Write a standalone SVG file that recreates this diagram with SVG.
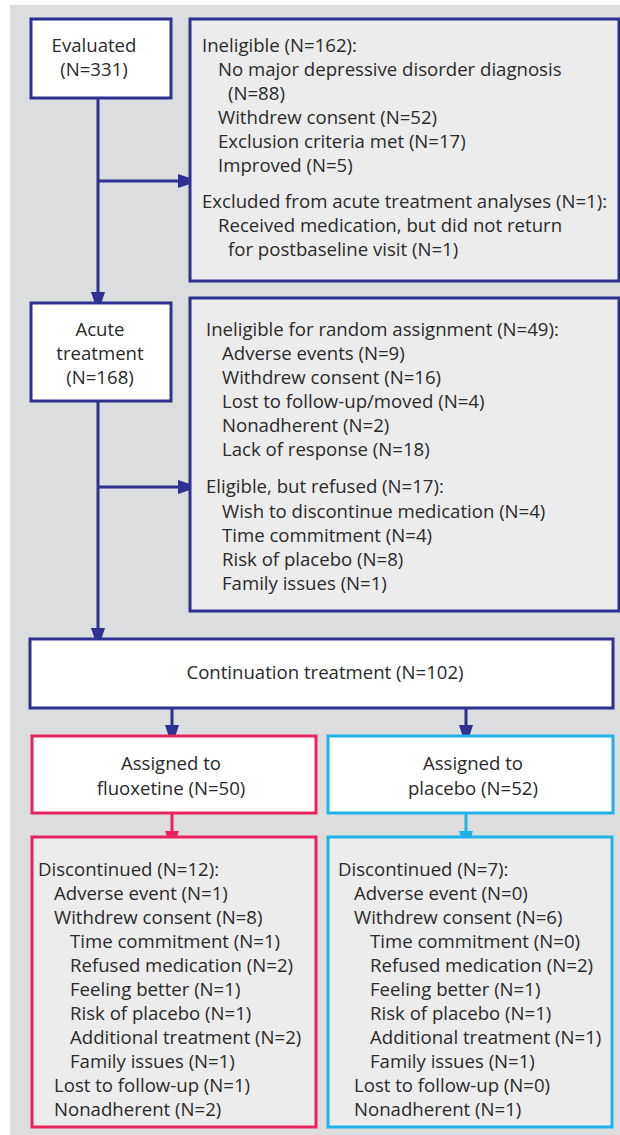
<svg xmlns="http://www.w3.org/2000/svg" width="620" height="1135" viewBox="0 0 620 1135">
<defs>
<style>
.bg{fill:#dcdddf}
.w{fill:#ffffff;stroke:#2e3192;stroke-width:3}
.g{fill:#ececec;stroke:#2e3192;stroke-width:3}
.wp{fill:#ffffff;stroke:#e8245e;stroke-width:3}
.gp{fill:#ececec;stroke:#e8245e;stroke-width:3}
.wc{fill:#ffffff;stroke:#1eb1ea;stroke-width:3}
.gc{fill:#ececec;stroke:#1eb1ea;stroke-width:3}
text{font-family:"Open Sans","Noto Sans","Liberation Sans",sans-serif;font-size:18.6px;fill:#2a2a2a}
.c{text-anchor:middle}
.lb{stroke:#2e3192;stroke-width:3;fill:none}
.lp{stroke:#e8245e;stroke-width:3;fill:none}
.lc{stroke:#1eb1ea;stroke-width:3;fill:none}
.hb{fill:#2e3192}
.hp{fill:#e8245e}
.hc{fill:#1eb1ea}
</style>
</defs>
<rect class="bg" x="10" y="5" width="610" height="1130"/>

<g id="connectors">
<path class="lb" d="M98,98 V295 M98,181 H180 M98,401 V630 M98,487 H180"/>
<polygon class="hb" points="178,174 199,181 178,188"/>
<polygon class="hb" points="91,292 98,313 105,292"/>
<polygon class="hb" points="178,480 199,487 178,494"/>
<polygon class="hb" points="91,628 98,649 105,628"/>
<path class="lb" d="M172,708 V728 M466,708 V728"/>
<polygon class="hb" points="165,725 172,746 179,725"/>
<polygon class="hb" points="459,725 466,746 473,725"/>
<path class="lp" d="M172,813 V834"/>
<polygon class="hp" points="165,831 172,852 179,831"/>
<path class="lc" d="M466,813 V834"/>
<polygon class="hc" points="459,831 466,852 473,831"/>
</g>

<g id="evaluated">
<rect class="w" x="31" y="19" width="140" height="79"/>
<text class="c" x="94" y="52">Evaluated</text>
<text class="c" x="94" y="76">(N=331)</text>
</g>

<g id="ineligible">
<rect class="g" x="190" y="19" width="429" height="262"/>
<text x="202" y="52">Ineligible (N=162):</text>
<text x="218" y="76">No major depressive disorder diagnosis</text>
<text x="228" y="100">(N=88)</text>
<text x="218" y="124">Withdrew consent (N=52)</text>
<text x="218" y="148">Exclusion criteria met (N=17)</text>
<text x="218" y="172">Improved (N=5)</text>
<text x="202" y="208">Excluded from acute treatment analyses (N=1):</text>
<text x="218" y="232">Received medication, but did not return</text>
<text x="228" y="256">for postbaseline visit (N=1)</text>
</g>

<g id="acute">
<rect class="w" x="31" y="303" width="140" height="98"/>
<text class="c" x="100" y="336">Acute</text>
<text class="c" x="100" y="360">treatment</text>
<text class="c" x="100" y="384">(N=168)</text>
</g>

<g id="ineligible-random">
<rect class="g" x="190" y="298" width="429" height="313"/>
<text x="206" y="336">Ineligible for random assignment (N=49):</text>
<text x="222" y="360">Adverse events (N=9)</text>
<text x="222" y="384">Withdrew consent (N=16)</text>
<text x="222" y="408">Lost to follow-up/moved (N=4)</text>
<text x="222" y="432">Nonadherent (N=2)</text>
<text x="222" y="456">Lack of response (N=18)</text>
<text x="206" y="493">Eligible, but refused (N=17):</text>
<text x="222" y="518">Wish to discontinue medication (N=4)</text>
<text x="222" y="542">Time commitment (N=4)</text>
<text x="222" y="566">Risk of placebo (N=8)</text>
<text x="222" y="590">Family issues (N=1)</text>
</g>

<g id="continuation">
<rect class="w" x="30" y="639" width="583" height="69"/>
<text class="c" x="325" y="679">Continuation treatment (N=102)</text>
</g>

<g id="fluoxetine">
<rect class="wp" x="32" y="736" width="284" height="77"/>
<text class="c" x="171" y="770">Assigned to</text>
<text class="c" x="171" y="795">fluoxetine (N=50)</text>
</g>

<g id="placebo">
<rect class="wc" x="328" y="736" width="285" height="77"/>
<text class="c" x="473" y="770">Assigned to</text>
<text class="c" x="473" y="795">placebo (N=52)</text>
</g>

<g id="disc-fluoxetine">
<rect class="gp" x="32" y="837" width="284" height="290"/>
<text x="38" y="876">Discontinued (N=12):</text>
<text x="54" y="900">Adverse event (N=1)</text>
<text x="54" y="924">Withdrew consent (N=8)</text>
<text x="70" y="948">Time commitment (N=1)</text>
<text x="70" y="972">Refused medication (N=2)</text>
<text x="70" y="996">Feeling better (N=1)</text>
<text x="70" y="1020">Risk of placebo (N=1)</text>
<text x="70" y="1044">Additional treatment (N=2)</text>
<text x="70" y="1068">Family issues (N=1)</text>
<text x="54" y="1092">Lost to follow-up (N=1)</text>
<text x="54" y="1116">Nonadherent (N=2)</text>
</g>

<g id="disc-placebo">
<rect class="gc" x="328" y="837" width="284" height="290"/>
<text x="338" y="876">Discontinued (N=7):</text>
<text x="354" y="900">Adverse event (N=0)</text>
<text x="354" y="924">Withdrew consent (N=6)</text>
<text x="370" y="948">Time commitment (N=0)</text>
<text x="370" y="972">Refused medication (N=2)</text>
<text x="370" y="996">Feeling better (N=1)</text>
<text x="370" y="1020">Risk of placebo (N=1)</text>
<text x="370" y="1044">Additional treatment (N=1)</text>
<text x="370" y="1068">Family issues (N=1)</text>
<text x="354" y="1092">Lost to follow-up (N=0)</text>
<text x="354" y="1116">Nonadherent (N=1)</text>
</g>
</svg>
